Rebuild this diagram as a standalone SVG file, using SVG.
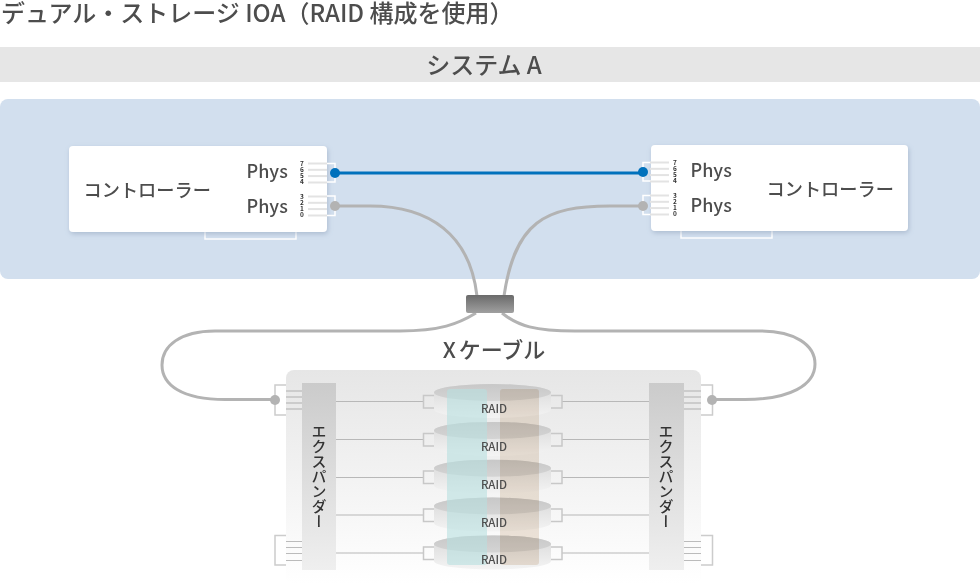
<svg xmlns="http://www.w3.org/2000/svg" xmlns:xlink="http://www.w3.org/1999/xlink" width="980" height="584" viewBox="0 0 980 584">
<style>
text{font-family:"Noto Sans CJK JP","Noto Sans",sans-serif;fill:#4d4d4d;font-weight:500}
.t18{font-size:18px;dominant-baseline:central}
.num{font-size:6.500px;font-weight:700;text-anchor:middle;fill:#333}
.raid{font-size:11.500px;text-anchor:middle;fill:#4d4d4d}
.vt{font-size:15px;writing-mode:vertical-rl;text-anchor:middle;fill:#333}
.cable{fill:none;stroke:#b3b3b3;stroke-width:3}
.blue{fill:none;stroke:#0071bc;stroke-width:3}
.pl{stroke:#e3e3e3;stroke-width:2}
.wb{fill:none;stroke:#fff;stroke-width:1.5}
.xp{stroke:#ccc;stroke-width:2}
.xpt{stroke:#bbb;stroke-width:1}
.xb{fill:none;stroke:#ccc;stroke-width:1.5}
.link{stroke:#b8b8b8;stroke-width:1.2;fill:none}
.sq{fill:none;stroke:#c8c8c8;stroke-width:1.5}
</style>
<defs>
<linearGradient id="gp" x1="0" y1="0" x2="0" y2="1"><stop offset="0" stop-color="#e6e6e6"/><stop offset="1" stop-color="#fff"/></linearGradient>
<linearGradient id="gx" x1="0" y1="0" x2="0" y2="1"><stop offset="0" stop-color="#cbcbcb"/><stop offset="1" stop-color="#efefef"/></linearGradient>
<linearGradient id="gc" x1="0" y1="0" x2="0" y2="1"><stop offset="0" stop-color="#6a6a6a"/><stop offset="1" stop-color="#a0a0a0"/></linearGradient>
<linearGradient id="gd" x1="0" y1="0" x2="0" y2="1"><stop offset="0" stop-color="#d8d8d8"/><stop offset="1" stop-color="#f4f4f4"/></linearGradient>
<linearGradient id="ge" x1="0" y1="0" x2="0" y2="1"><stop offset="0" stop-color="#c8c8c8"/><stop offset="1" stop-color="#d4d4d4"/></linearGradient>
<filter id="sh" x="-5%" y="-10%" width="110%" height="125%"><feDropShadow dx="1" dy="2" stdDeviation="2.500" flood-color="#7f93ad" flood-opacity=".45"/></filter>
<g id="disk"><path d="M434 392.500A58.500 8.500 0 0 1 551 392.500V409.500A58.500 8.500 0 0 1 434 409.500Z" fill="url(#gd)"/><ellipse cx="492.500" cy="392.500" rx="58.500" ry="8.500" fill="url(#ge)"/></g>
<g id="pnum"><line class="pl" x1="0" x2="19" y1="0" y2="0"/><line class="pl" x1="0" x2="19" y1="6.300" y2="6.300"/><line class="pl" x1="0" x2="19" y1="12.600" y2="12.600"/><line class="pl" x1="0" x2="19" y1="19" y2="19"/></g>
</defs>

<rect width="980" height="584" fill="#fff"/>
<text id="title" x="1" y="22" font-size="24">デュアル・ストレージ IOA（RAID 構成を使用）</text>
<g id="system-banner"><rect x="0" y="47" width="980" height="35" fill="#e6e6e6"/><text x="484" y="74" font-size="24" text-anchor="middle">システム A</text></g>
<rect id="system-panel" x="0" y="99" width="980" height="180" rx="8" fill="#d2dfee"/>

<g id="storage-panel"><rect x="286" y="370" width="415" height="214" rx="8" fill="url(#gp)"/></g>

<g id="connectors">
<path class="blue" d="M335 173H643"/>
<path class="cable" d="M335 206H370C430 206 470 235 477 296"/>
<path class="cable" d="M645 206H610C545 206 515 222 504 296"/>
<path class="cable" d="M476 313C458 324 440 331 400 331H215C180 331 162 346 162 365C162 385 182 399.500 225 399.500H275"/>
<path class="cable" d="M502 313C518 326 535 331 575 331H760C795 331 815 345 815 364C815 385 790 399.500 745 399.500H712"/>
<g class="link">
<path d="M336 401.500H423M336 439.500H423M336 477.500H423M336 515H423M336 553H423"/>
<path d="M562 401.500H649M562 439.500H649M562 477.500H649M562 515H649M562 553H649"/>
</g>
</g>

<g id="controller-left">
<rect x="205" y="225" width="91" height="14" class="wb"/>
<rect x="69" y="146" width="258" height="86" rx="4" fill="#fff" filter="url(#sh)"/>
<path class="wb" d="M327 163.500H335V182H327M327 196H335V215.500H327"/>
<use href="#pnum" x="308" y="163.500"/><use href="#pnum" x="308" y="196.500"/>
<g><text class="num" x="302" y="166">7</text><text class="num" x="302" y="172">6</text><text class="num" x="302" y="178">5</text><text class="num" x="302" y="184">4</text><text class="num" x="302" y="199">3</text><text class="num" x="302" y="205">2</text><text class="num" x="302" y="211">1</text><text class="num" x="302" y="217">0</text></g>
<text class="t18" x="83.500" y="189" style="font-size:18.200px">コントローラー</text>
<text class="t18" x="246.500" y="170">Phys</text><text class="t18" x="246.500" y="205">Phys</text>
<circle cx="335" cy="173" r="5" fill="#0071bc"/><circle cx="335" cy="206" r="5" fill="#b3b3b3"/>
</g>

<g id="controller-right">
<rect x="681" y="224" width="91" height="14" class="wb"/>
<rect x="651" y="145" width="257" height="86" rx="4" fill="#fff" filter="url(#sh)"/>
<path class="wb" d="M651 162.500H643V181H651M651 195.500H643V214.500H651"/>
<use href="#pnum" x="650" y="162.500"/><use href="#pnum" x="650" y="195.500"/>
<g><text class="num" x="675" y="165">7</text><text class="num" x="675" y="171">6</text><text class="num" x="675" y="177">5</text><text class="num" x="675" y="183">4</text><text class="num" x="675" y="198">3</text><text class="num" x="675" y="204">2</text><text class="num" x="675" y="210">1</text><text class="num" x="675" y="216">0</text></g>
<text class="t18" x="766.500" y="188" style="font-size:18.200px">コントローラー</text>
<text class="t18" x="690.500" y="169">Phys</text><text class="t18" x="690.500" y="204">Phys</text>
<circle cx="643" cy="172" r="5" fill="#0071bc"/><circle cx="643" cy="206" r="5" fill="#b3b3b3"/>
</g>

<g id="x-cable-connector"><rect x="466" y="295" width="48" height="18" rx="2" fill="url(#gc)"/></g>
<text id="x-cable-label" x="494" y="358" font-size="22" text-anchor="middle" word-spacing="-2">X ケーブル</text>

<g id="expander-left">
<path class="xb" d="M286 385H275V415H286M286 535.500H275V565H286"/>
<path class="xp" d="M286 391H302M286 397H302M286 403H302M286 409H302"/>
<path class="xpt" d="M286 541.500H302M286 547.500H302M286 553.500H302M286 560.500H302"/>
<rect x="302" y="383" width="34" height="187" fill="url(#gx)"/>
<text class="vt" x="319" y="476">エクスパンダー</text>
<circle cx="275" cy="400" r="5" fill="#b3b3b3"/>
</g>
<g id="expander-right">
<path class="xb" d="M701 385H712.500V415H701M701 535.500H712.500V565H701"/>
<path class="xp" d="M684 391H701M684 397H701M684 403H701M684 409H701"/>
<path class="xpt" d="M684 541.500H701M684 547.500H701M684 553.500H701M684 560.500H701"/>
<rect x="649" y="383" width="35" height="187" fill="url(#gx)"/>
<text class="vt" x="666" y="476">エクスパンダー</text>
<circle cx="712" cy="400" r="5" fill="#b3b3b3"/>
</g>

<g id="raid-disks">
<g id="disk-1"><use href="#disk"/><path class="sq" d="M434 395.500H423.500V408H434M551 395.500H562V408H551"/></g>
<g id="disk-2"><use href="#disk" y="37.900"/><path class="sq" d="M434 433.500H423.500V446H434M551 433.500H562V446H551"/></g>
<g id="disk-3"><use href="#disk" y="75.700"/><path class="sq" d="M434 471H423.500V483.500H434M551 471H562V483.500H551"/></g>
<g id="disk-4"><use href="#disk" y="113.500"/><path class="sq" d="M434 509H423.500V521.500H434M551 509H562V521.500H551"/></g>
<g id="disk-5"><use href="#disk" y="151.400"/><path class="sq" d="M434 547H423.500V559.500H434M551 547H562V559.500H551"/></g>
</g>
<rect id="raid-stripe-teal" x="447" y="389" width="40" height="176" rx="3" fill="#b8e0e0" opacity=".6"/>
<rect id="raid-stripe-brown" x="500" y="389" width="39" height="176" rx="3" fill="#f0e6db" style="mix-blend-mode:multiply"/>
<g id="raid-labels">
<text class="raid" x="494" y="413">RAID</text><text class="raid" x="494" y="451">RAID</text><text class="raid" x="494" y="489">RAID</text><text class="raid" x="494" y="527">RAID</text><text class="raid" x="494" y="564">RAID</text>
</g>
</svg>
